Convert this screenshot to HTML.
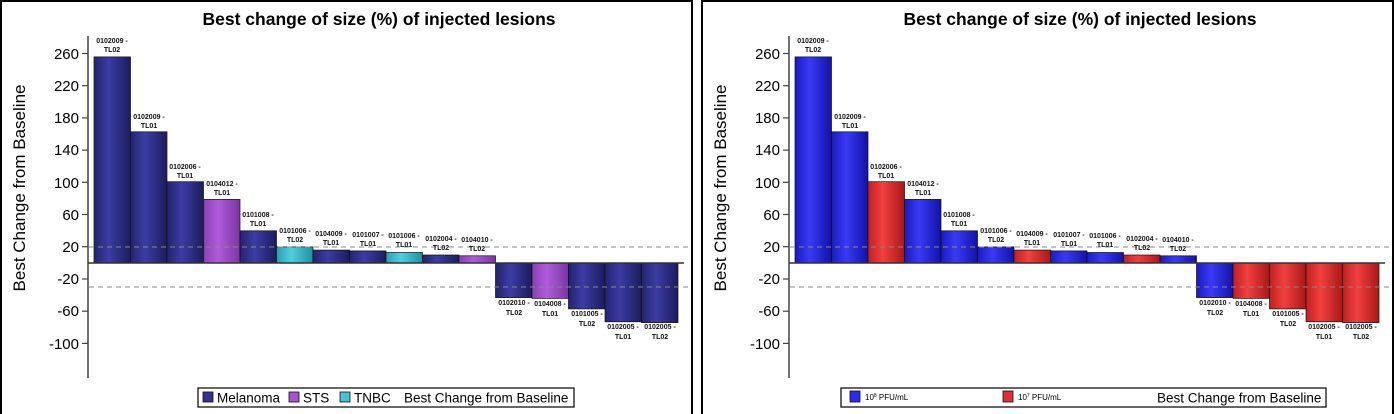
<!DOCTYPE html>
<html><head><meta charset="utf-8"><style>
html,body{margin:0;padding:0;background:#fff;}
svg{display:block;font-family:"Liberation Sans",Arial,sans-serif;}
.t{font-size:17.5px;font-weight:bold;text-anchor:middle;}
.tk{font-size:15px;text-anchor:end;}
.yl{font-size:17px;text-anchor:middle;}
.lb{font-size:7px;font-weight:bold;text-anchor:middle;fill:#111;}
.lg{font-size:13.5px;}
.sm{font-size:8px;}
</style></head><body>
<svg width="1394" height="414" viewBox="0 0 1394 414" xmlns="http://www.w3.org/2000/svg">
<defs>
<linearGradient id="gN" x1="0" x2="1" y1="0" y2="0"><stop offset="0" stop-color="#23236e"/><stop offset="0.4" stop-color="#3c3ca4"/><stop offset="1" stop-color="#1c1c5c"/></linearGradient>
<linearGradient id="gP" x1="0" x2="1" y1="0" y2="0"><stop offset="0" stop-color="#8a3fb2"/><stop offset="0.4" stop-color="#b05cdc"/><stop offset="1" stop-color="#7a35a0"/></linearGradient>
<linearGradient id="gC" x1="0" x2="1" y1="0" y2="0"><stop offset="0" stop-color="#2aa0b0"/><stop offset="0.4" stop-color="#4fd0e0"/><stop offset="1" stop-color="#2090a0"/></linearGradient>
<linearGradient id="gB" x1="0" x2="1" y1="0" y2="0"><stop offset="0" stop-color="#1a1ac0"/><stop offset="0.4" stop-color="#3a3af5"/><stop offset="1" stop-color="#1212a8"/></linearGradient>
<linearGradient id="gR" x1="0" x2="1" y1="0" y2="0"><stop offset="0" stop-color="#c02020"/><stop offset="0.4" stop-color="#f24040"/><stop offset="1" stop-color="#a81818"/></linearGradient>
</defs>
<rect x="1" y="1" width="691" height="420" fill="none" stroke="#000" stroke-width="2"/>
<rect x="702" y="1" width="691" height="420" fill="none" stroke="#000" stroke-width="2"/>

<!-- LEFT PANEL -->
<g>
<text class="t" x="379" y="25">Best change of size (%) of injected lesions</text>
<text class="yl" transform="translate(25,188) rotate(-90)">Best Change from Baseline</text>
<line x1="88" y1="36" x2="88" y2="378" stroke="#444" stroke-width="1.5"/>
<g stroke="#444" stroke-width="1.2">
<line x1="82" y1="53.5" x2="88" y2="53.5"/><line x1="82" y1="85.7" x2="88" y2="85.7"/><line x1="82" y1="117.9" x2="88" y2="117.9"/><line x1="82" y1="150.1" x2="88" y2="150.1"/><line x1="82" y1="182.3" x2="88" y2="182.3"/><line x1="82" y1="214.5" x2="88" y2="214.5"/><line x1="82" y1="246.7" x2="88" y2="246.7"/><line x1="82" y1="279" x2="88" y2="279"/><line x1="82" y1="311.2" x2="88" y2="311.2"/><line x1="82" y1="343.4" x2="88" y2="343.4"/>
</g>
<g class="tk">
<text x="79" y="59">260</text><text x="79" y="91">220</text><text x="79" y="123">180</text><text x="79" y="155">140</text><text x="79" y="188">100</text><text x="79" y="220">60</text><text x="79" y="252">20</text><text x="79" y="284">-20</text><text x="79" y="316">-60</text><text x="79" y="349">-100</text>
</g>
<g stroke="#111" stroke-width="0.7">
<rect x="94" y="56.9" width="36.5" height="206.1" fill="url(#gN)"/>
<rect x="130.5" y="131.8" width="36.5" height="131.2" fill="url(#gN)"/>
<rect x="167" y="181.7" width="36.5" height="81.3" fill="url(#gN)"/>
<rect x="203.5" y="199.4" width="36.5" height="63.6" fill="url(#gP)"/>
<rect x="240" y="230.8" width="36.5" height="32.2" fill="url(#gN)"/>
<rect x="276.5" y="246.9" width="36.5" height="16.1" fill="url(#gC)"/>
<rect x="313" y="250.1" width="36.5" height="12.9" fill="url(#gN)"/>
<rect x="349.5" y="250.9" width="36.5" height="12.1" fill="url(#gN)"/>
<rect x="386" y="252.5" width="36.5" height="10.5" fill="url(#gC)"/>
<rect x="422.5" y="255" width="36.5" height="8" fill="url(#gN)"/>
<rect x="459" y="255.8" width="36.5" height="7.2" fill="url(#gP)"/>
<rect x="495.5" y="263" width="36.5" height="34.6" fill="url(#gN)"/>
<rect x="532" y="263" width="36.5" height="35.4" fill="url(#gP)"/>
<rect x="568.5" y="263" width="36.5" height="45.9" fill="url(#gN)"/>
<rect x="605" y="263" width="36.5" height="58.8" fill="url(#gN)"/>
<rect x="641.5" y="263" width="36.5" height="59.6" fill="url(#gN)"/>
</g>
<line x1="88" y1="263" x2="684" y2="263" stroke="#333" stroke-width="1.5"/>
<line x1="89" y1="247" x2="690" y2="247" stroke="#888" stroke-width="1" stroke-dasharray="5,4"/>
<line x1="89" y1="287" x2="690" y2="287" stroke="#888" stroke-width="1" stroke-dasharray="5,4"/>
<g class="lb">
<text x="112" y="43">0102009 -</text><text x="112" y="52">TL02</text>
<text x="149" y="119">0102009 -</text><text x="149" y="128">TL01</text>
<text x="185" y="169">0102006 -</text><text x="185" y="178">TL01</text>
<text x="222" y="186">0104012 -</text><text x="222" y="195">TL01</text>
<text x="258" y="217">0101008 -</text><text x="258" y="226">TL01</text>
<text x="295" y="233">0101006 -</text><text x="295" y="242">TL02</text>
<text x="331" y="236">0104009 -</text><text x="331" y="245">TL01</text>
<text x="368" y="237">0101007 -</text><text x="368" y="246">TL01</text>
<text x="404" y="238">0101006 -</text><text x="404" y="247">TL01</text>
<text x="441" y="241">0102004 -</text><text x="441" y="250">TL02</text>
<text x="477" y="242">0104010 -</text><text x="477" y="251">TL02</text>
<text x="514" y="305">0102010 -</text><text x="514" y="315">TL02</text>
<text x="550" y="306">0104008 -</text><text x="550" y="316">TL01</text>
<text x="587" y="316">0101005 -</text><text x="587" y="326">TL02</text>
<text x="623" y="329">0102005 -</text><text x="623" y="339">TL01</text>
<text x="660" y="329">0102005 -</text><text x="660" y="339">TL02</text>
</g>
<rect x="198" y="388" width="376" height="19" fill="#fff" stroke="#000" stroke-width="1.2"/>
<rect x="203" y="392" width="10" height="10" fill="#33338e" stroke="#111" stroke-width="0.8"/>
<text class="lg" x="217" y="402.5">Melanoma</text>
<rect x="289" y="392" width="10" height="10" fill="#a553d0" stroke="#111" stroke-width="0.8"/>
<text class="lg" x="303" y="402.5">STS</text>
<rect x="340" y="392" width="10" height="10" fill="#45c3d3" stroke="#111" stroke-width="0.8"/>
<text class="lg" x="354" y="402.5">TNBC</text>
<text class="lg" x="404" y="402.5">Best Change from Baseline</text>
</g>

<!-- RIGHT PANEL -->
<g transform="translate(701,0)">
<text class="t" x="379" y="25">Best change of size (%) of injected lesions</text>
<text class="yl" transform="translate(25,188) rotate(-90)">Best Change from Baseline</text>
<line x1="88" y1="36" x2="88" y2="378" stroke="#444" stroke-width="1.5"/>
<g stroke="#444" stroke-width="1.2">
<line x1="82" y1="53.5" x2="88" y2="53.5"/><line x1="82" y1="85.7" x2="88" y2="85.7"/><line x1="82" y1="117.9" x2="88" y2="117.9"/><line x1="82" y1="150.1" x2="88" y2="150.1"/><line x1="82" y1="182.3" x2="88" y2="182.3"/><line x1="82" y1="214.5" x2="88" y2="214.5"/><line x1="82" y1="246.7" x2="88" y2="246.7"/><line x1="82" y1="279" x2="88" y2="279"/><line x1="82" y1="311.2" x2="88" y2="311.2"/><line x1="82" y1="343.4" x2="88" y2="343.4"/>
</g>
<g class="tk">
<text x="79" y="59">260</text><text x="79" y="91">220</text><text x="79" y="123">180</text><text x="79" y="155">140</text><text x="79" y="188">100</text><text x="79" y="220">60</text><text x="79" y="252">20</text><text x="79" y="284">-20</text><text x="79" y="316">-60</text><text x="79" y="349">-100</text>
</g>
<g stroke="#111" stroke-width="0.7">
<rect x="94" y="56.9" width="36.5" height="206.1" fill="url(#gB)"/>
<rect x="130.5" y="131.8" width="36.5" height="131.2" fill="url(#gB)"/>
<rect x="167" y="181.7" width="36.5" height="81.3" fill="url(#gR)"/>
<rect x="203.5" y="199.4" width="36.5" height="63.6" fill="url(#gB)"/>
<rect x="240" y="230.8" width="36.5" height="32.2" fill="url(#gB)"/>
<rect x="276.5" y="246.9" width="36.5" height="16.1" fill="url(#gB)"/>
<rect x="313" y="250.1" width="36.5" height="12.9" fill="url(#gR)"/>
<rect x="349.5" y="250.9" width="36.5" height="12.1" fill="url(#gB)"/>
<rect x="386" y="252.5" width="36.5" height="10.5" fill="url(#gB)"/>
<rect x="422.5" y="255" width="36.5" height="8" fill="url(#gR)"/>
<rect x="459" y="255.8" width="36.5" height="7.2" fill="url(#gB)"/>
<rect x="495.5" y="263" width="36.5" height="34.6" fill="url(#gB)"/>
<rect x="532" y="263" width="36.5" height="35.4" fill="url(#gR)"/>
<rect x="568.5" y="263" width="36.5" height="45.9" fill="url(#gR)"/>
<rect x="605" y="263" width="36.5" height="58.8" fill="url(#gR)"/>
<rect x="641.5" y="263" width="36.5" height="59.6" fill="url(#gR)"/>
</g>
<line x1="88" y1="263" x2="684" y2="263" stroke="#333" stroke-width="1.5"/>
<line x1="89" y1="247" x2="690" y2="247" stroke="#888" stroke-width="1" stroke-dasharray="5,4"/>
<line x1="89" y1="287" x2="690" y2="287" stroke="#888" stroke-width="1" stroke-dasharray="5,4"/>
<g class="lb">
<text x="112" y="43">0102009 -</text><text x="112" y="52">TL02</text>
<text x="149" y="119">0102009 -</text><text x="149" y="128">TL01</text>
<text x="185" y="169">0102006 -</text><text x="185" y="178">TL01</text>
<text x="222" y="186">0104012 -</text><text x="222" y="195">TL01</text>
<text x="258" y="217">0101008 -</text><text x="258" y="226">TL01</text>
<text x="295" y="233">0101006 -</text><text x="295" y="242">TL02</text>
<text x="331" y="236">0104009 -</text><text x="331" y="245">TL01</text>
<text x="368" y="237">0101007 -</text><text x="368" y="246">TL01</text>
<text x="404" y="238">0101006 -</text><text x="404" y="247">TL01</text>
<text x="441" y="241">0102004 -</text><text x="441" y="250">TL02</text>
<text x="477" y="242">0104010 -</text><text x="477" y="251">TL02</text>
<text x="514" y="305">0102010 -</text><text x="514" y="315">TL02</text>
<text x="550" y="306">0104008 -</text><text x="550" y="316">TL01</text>
<text x="587" y="316">0101005 -</text><text x="587" y="326">TL02</text>
<text x="623" y="329">0102005 -</text><text x="623" y="339">TL01</text>
<text x="660" y="329">0102005 -</text><text x="660" y="339">TL02</text>
</g>
<rect x="140" y="388" width="485" height="19" fill="#fff" stroke="#000" stroke-width="1.2"/>
<rect x="149" y="391" width="10" height="11" fill="#2a2aee" stroke="#111" stroke-width="0.8"/>
<text class="sm" x="164" y="400">10<tspan font-size="5" dy="-3">8</tspan><tspan dy="3"> PFU/mL</tspan></text>
<rect x="302" y="391" width="10" height="11" fill="#e03030" stroke="#111" stroke-width="0.8"/>
<text class="sm" x="317" y="400">10<tspan font-size="5" dy="-3">7</tspan><tspan dy="3"> PFU/mL</tspan></text>
<text class="lg" x="456" y="402.5">Best Change from Baseline</text>
</g>
</svg>
</body></html>
